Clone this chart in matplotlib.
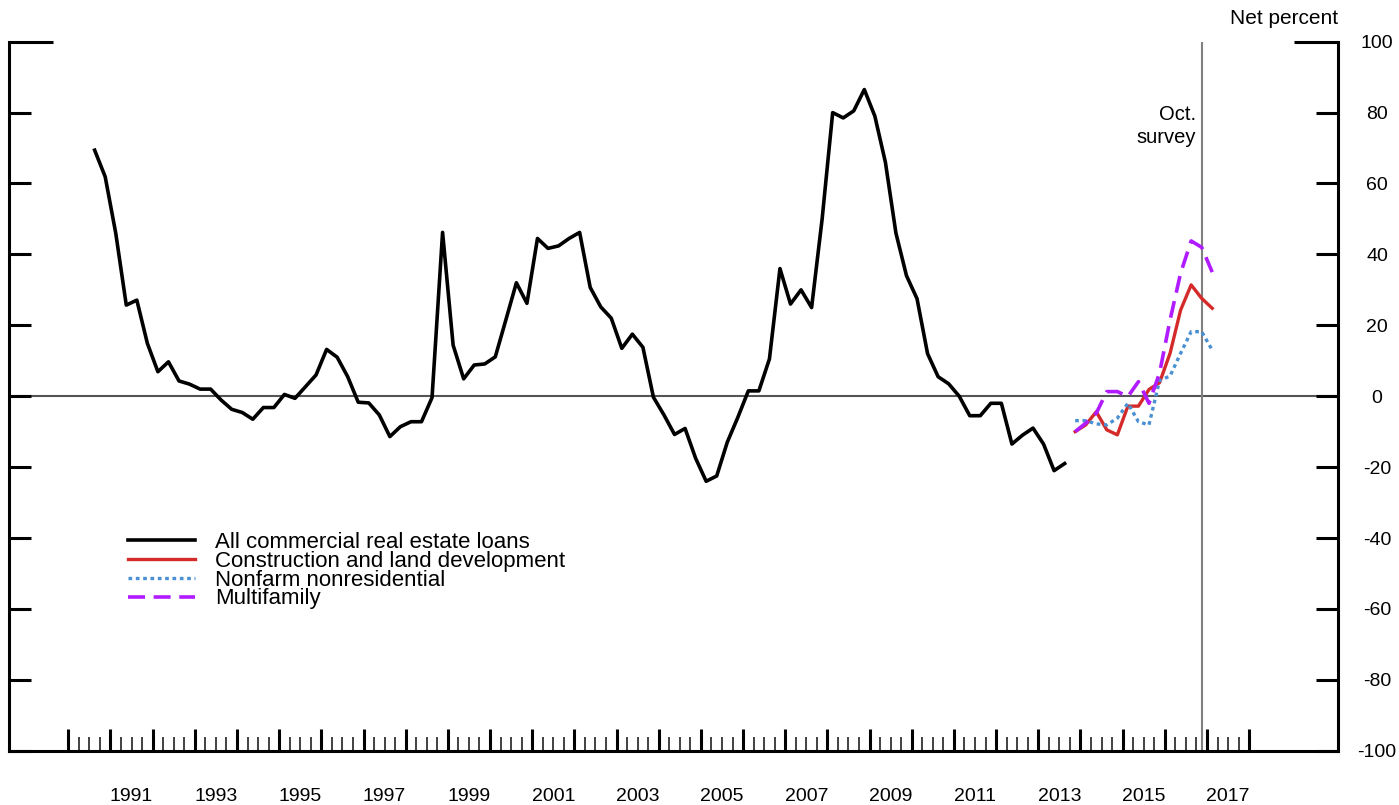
import numpy as np
import pandas as pd
import matplotlib
matplotlib.use('Agg')
import matplotlib.pyplot as plt

plt.rcParams['font.family'] = ['Liberation Sans', 'DejaVu Sans']
plt.rcParams['axes.unicode_minus'] = False

# quarterly net percent, all CRE loans (1990Q3 - 2013Q3)
all_cre_start = '1990Q3'
all_cre = [69.4, 61.9, 46.0, 25.7, 27.1, 14.9, 6.9, 9.7, 4.3, 3.4,
           2.0, 2.0, -1.1, -3.7, -4.6, -6.5, -3.2, -3.2, 0.5, -0.6,
           2.7, 6.0, 13.2, 11.0, 5.5, -1.7, -1.9, -5.3, -11.4, -8.6,
           -7.2, -7.2, -0.4, 46.2, 14.4, 4.9, 8.8, 9.1, 11.1, 21.5,
           32.0, 26.2, 44.5, 41.7, 42.4, 44.5, 46.2, 30.7, 25.2, 22.0,
           13.5, 17.5, 13.8, -0.3, -5.3, -10.8, -9.1, -17.5, -24.0, -22.5,
           -13.0, -6.0, 1.5, 1.5, 10.5, 36.0, 26.0, 30.0, 25.0, 50.0,
           80.0, 78.5, 80.5, 86.5, 79.0, 66.0, 46.0, 34.0, 27.5, 12.0,
           5.5, 3.5, 0.0, -5.5, -5.5, -2.0, -2.0, -13.5, -11.0, -9.0,
           -13.5, -21.0, -19.0]

# breakdown by loan type (2013Q4 - 2017Q1)
sub_start = '2013Q4'
construction = [-10.0, -8.1, -4.4, -9.5, -10.9, -2.8, -2.8, 1.9, 3.8, 12.1,
                24.3, 31.4, 27.6, 24.8]
nonfarm = [-6.9, -6.9, -7.8, -8.1, -6.2, -2.0, -7.2, -8.1, 4.4, 5.7,
           12.1, 18.2, 18.2, 13.0]
multifamily = [-10.0, -7.6, -4.8, 1.3, 1.3, -0.1, 4.1, -2.0, 6.5, 21.5,
               34.7, 43.8, 42.0, 35.0]

survey_quarter = '2016Q4'
label_years = list(range(1991, 2018, 2))


def quarter_mid(start, n):
    p = pd.period_range(start, periods=n, freq='Q')
    return np.asarray(p.year + (p.quarter - 0.5) / 4.0)


x_all = quarter_mid(all_cre_start, len(all_cre))
x_sub = quarter_mid(sub_start, len(construction))
x_survey = quarter_mid(survey_quarter, 1)[0]

fig = plt.figure(figsize=(13.99, 8.05), dpi=100)
ax = fig.add_axes([9 / 1399, 54.3 / 805, 1328.7 / 1399, 709 / 805])

ax.axhline(0, color='#555555', lw=1.5, zorder=1)
ax.axvline(x_survey, color='#808080', lw=1.5, zorder=1)

ax.plot(x_all, all_cre, color='black', lw=2.6, label='All commercial real estate loans')
ax.plot(x_sub, construction, color='#d42a2a', lw=2.4, label='Construction and land development')
ax.plot(x_sub, nonfarm, color='#4a90d2', lw=2.4, linestyle=(0, (1.1, 1.1)),
        label='Nonfarm nonresidential')
ax.plot(x_sub, multifamily, color='#b01cff', lw=2.6, linestyle=(0, (4.7, 2.4)),
        label='Multifamily')

ax.set_xlim(1988.594, 2020.10)
ax.set_ylim(-100, 100)

for side in ['left', 'right', 'bottom']:
    ax.spines[side].set_linewidth(2.2)
ax.spines['top'].set_visible(False)

# y axis: ticks both sides, labels on the right
ax.set_yticks(range(-100, 101, 20))
ax.tick_params(axis='y', which='major', direction='in', length=15.8, width=2.2,
               left=True, right=True, labelleft=False, labelright=True,
               labelsize=14, pad=28.3)
yticks = ax.yaxis.get_major_ticks()
for t in yticks:
    t.label2.set_horizontalalignment('center')
yticks[-1].tick1line.set_markersize(31.5)
yticks[-1].tick2line.set_markersize(31.5)

# x axis: yearly and quarterly ticks
years = np.arange(1990, 2019)
quarters = [y + q / 4 for y in years[:-1] for q in (1, 2, 3)]
ax.set_xticks(years)
ax.set_xticks(quarters, minor=True)
ax.tick_params(axis='x', which='major', direction='in', length=15.8, width=2.2,
               labelbottom=False)
ax.tick_params(axis='x', which='minor', direction='in', length=10, width=1.3,
               color='#333333')

sec = ax.secondary_xaxis('bottom')
sec.set_xticks([y + 0.5 for y in label_years], labels=[str(y) for y in label_years])
sec.tick_params(length=0, pad=27, labelsize=14)
for s in sec.spines.values():
    s.set_visible(False)

ax.text(x_survey - 0.14, 79.6, 'Oct.', ha='right', va='center', fontsize=14.5)
ax.text(x_survey - 0.14, 73.1, 'survey', ha='right', va='center', fontsize=14.5)

fig.text(1337.7 / 1399, 1 - 19 / 805, 'Net percent', ha='right', va='center', fontsize=15)

ax.legend(loc='upper left', bbox_to_anchor=(128 / 1399, 1 - 532 / 805),
          bbox_transform=fig.transFigure, frameon=False, fontsize=16,
          handlelength=3.0, handletextpad=0.92, labelspacing=-0.1,
          borderpad=0, borderaxespad=0)

fig.savefig('out.png', dpi=100)
